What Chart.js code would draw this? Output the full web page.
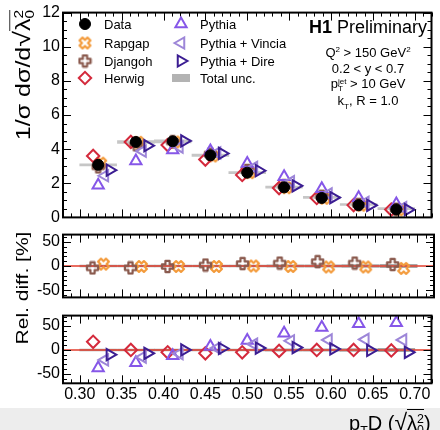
<!DOCTYPE html>
<html>
<head>
<meta charset="utf-8">
<script src="https://cdn.jsdelivr.net/npm/chart.js@4/dist/chart.umd.min.js"></script>
<style>
  html, body { margin: 0; padding: 0; background: #fff; width: 440px; height: 430px; overflow: hidden; position: relative;
    font-family: 'Liberation Sans Narrow', 'Liberation Sans', Arial, sans-serif; }
  .pan { position: absolute; left: 0; width: 440px; }
  .txt { position: absolute; white-space: nowrap; color: #000; line-height: 1; }
  #strip { position: absolute; left: 0; top: 408px; width: 440px; height: 22px; background: #ededed; }
  .rot { transform: rotate(-90deg) scaleY(0.8); transform-origin: center; text-align: center; }
  .ov { border-top: 1.5px solid #000; padding-top: 2px; }
  .ss { display: inline-block; font-size: 0.62em; line-height: 0.95em; vertical-align: -0.35em; text-align: left; }
  sub, sup { font-size: 0.62em; }
</style>
</head>
<body>
<div id="strip"></div>
<div class="pan" style="top:0;height:230px"><canvas id="cTop"></canvas></div>
<div class="pan" style="top:222px;height:88px"><canvas id="cMid"></canvas></div>
<div class="pan" style="top:303px;height:127px"><canvas id="cBot"></canvas></div>

<div class="txt rot" style="font-size:25px;width:200px;height:30px;left:-77px;top:60px">1/σ dσ/d<span style="font-size:1.15em">√</span><span class="ov">λ<span class="ss">2<br>0</span></span></div>
<div class="txt rot" style="font-size:21px;width:150px;height:24px;left:-52px;top:276px">Rel. diff. [%]</div>
<div class="txt" style="font-size:20px;left:349px;top:411px">p<sub>T</sub>D (<span style="font-size:1.15em">√</span><span class="ov">λ<span class="ss">2<br>0</span></span>)</div>

<div class="txt" style="font-size:18px;right:13px;top:18px"><b>H1</b> Preliminary</div>
<div class="txt" style="font-size:13px;left:300px;width:136px;text-align:center;top:46px">Q<sup>2</sup> &gt; 150 GeV<sup>2</sup></div>
<div class="txt" style="font-size:13px;left:300px;width:136px;text-align:center;top:62px">0.2 &lt; y &lt; 0.7</div>
<div class="txt" style="font-size:13px;left:300px;width:136px;text-align:center;top:77px">p<span class="ss" style="vertical-align:-0.4em">jet<br>T</span> &gt; 10 GeV</div>
<div class="txt" style="font-size:13px;left:300px;width:136px;text-align:center;top:94px">k<sub>T</sub>, R = 1.0</div>

<script>
  // bins of pT D (sqrt(lambda_0^2)), 9 bins between 0.30 and 0.70
  const binCentres = [0.322, 0.367, 0.411, 0.456, 0.500, 0.544, 0.589, 0.633, 0.678];
  const xTicks = [0.30, 0.35, 0.40, 0.45, 0.50, 0.55, 0.60, 0.65, 0.70];
  const yTopTicks = [0, 2, 4, 6, 8, 10, 12];
  const yRelTicks = [-50, 0, 50];

  // normalised cross section
  const dataVals = [3.08, 4.42, 4.46, 3.64, 2.62, 1.76, 1.14, 0.72, 0.47];
  const rapgapVals = [3.18, 4.40, 4.42, 3.60, 2.62, 1.74, 1.12, 0.71, 0.44];
  const djangohVals = [2.96, 4.25, 4.42, 3.71, 2.75, 1.85, 1.24, 0.76, 0.48];
  const herwigVals = [3.60, 4.42, 4.24, 3.39, 2.49, 1.72, 1.14, 0.72, 0.46];
  const pythiaVals = [1.88, 3.30, 3.95, 3.89, 3.16, 2.38, 1.68, 1.15, 0.78];
  const vinciaVals = [2.44, 3.88, 4.12, 3.78, 2.93, 2.09, 1.38, 0.88, 0.57];
  const direVals = [2.77, 4.20, 4.48, 3.75, 2.74, 1.85, 1.16, 0.71, 0.45];
  // total uncertainty [%]
  const totUnc = [2, 2, 2, 2, 2, 2.5, 2.5, 3, 3.5];

  // relative difference to data [%]
  const relRapgap = [4, -1, -1, -1, 0, -1, -2, -2, -5];
  const relDjangoh = [-4, -4, -1, 2, 5, 6, 9, 6, 3];
  const relHerwig = [17, 0, -5, -7, -5, -2, 0, 0, -1];
  const relPythia = [-38, -27, -12, 7, 20, 35, 47, 55, 57];
  const relVincia = [-21, -15, -8, 4, 12, 19, 21, 22, 21];
  const relDire = [-10, -7, 0, 3, 4, 5, 2, -1, -5];

  const X_MIN = 0.28, X_MAX = 0.72;
  const FONT = "'Liberation Sans Narrow', 'Liberation Sans', Arial, sans-serif";
  Chart.defaults.font.family = FONT;
  Chart.defaults.color = '#000';

  // open cross markers (ROOT style) as small canvases
  function crossImg(color, rot) {
    const s = 15, c = document.createElement('canvas');
    c.width = s; c.height = s;
    const g = c.getContext('2d');
    g.translate(s / 2, s / 2); g.rotate(rot);
    const a = 5.6, b = 2.1;
    g.beginPath();
    g.moveTo(-b, -a); g.lineTo(b, -a); g.lineTo(b, -b); g.lineTo(a, -b); g.lineTo(a, b); g.lineTo(b, b);
    g.lineTo(b, a); g.lineTo(-b, a); g.lineTo(-b, b); g.lineTo(-a, b); g.lineTo(-a, -b); g.lineTo(-b, -b);
    g.closePath();
    g.lineWidth = 2.2; g.strokeStyle = color; g.lineJoin = 'round'; g.stroke();
    return c;
  }

  const st = {
    data:    { pointStyle: 'circle', radius: 5.5, rotation: 0, borderWidth: 1, color: '#000', fill: '#000' },
    rapgap:  { pointStyle: crossImg('#f39a3a', Math.PI / 4), radius: 6, rotation: 0, borderWidth: 0, color: '#f39a3a', fill: '#f39a3a' },
    djangoh: { pointStyle: crossImg('#8a5a4e', 0), radius: 6, rotation: 0, borderWidth: 0, color: '#8a5a4e', fill: '#8a5a4e' },
    herwig:  { pointStyle: 'rectRot', radius: 6.2, rotation: 0, borderWidth: 2, color: '#d42a3c', fill: 'rgba(0,0,0,0)' },
    pythia:  { pointStyle: 'triangle', radius: 6.5, rotation: 0, borderWidth: 2, color: '#8657e8', fill: 'rgba(0,0,0,0)' },
    vincia:  { pointStyle: 'triangle', radius: 6.5, rotation: -90, borderWidth: 2, color: '#9d86d8', fill: 'rgba(0,0,0,0)' },
    dire:    { pointStyle: 'triangle', radius: 6.5, rotation: 90, borderWidth: 2, color: '#3b1d92', fill: 'rgba(0,0,0,0)' }
  };

  function pts(vals, dx) {
    return vals.map((v, i) => ({ x: binCentres[i] + dx, y: v }));
  }

  function markers(key, vals, dx) {
    const s = st[key];
    return {
      type: 'scatter', data: pts(vals, dx), showLine: false,
      pointStyle: s.pointStyle, pointRadius: s.radius, pointRotation: s.rotation,
      pointBorderWidth: s.borderWidth, pointBorderColor: s.color, pointBackgroundColor: s.fill
    };
  }

  function band(lo, hi, minLen, color) {
    return {
      type: 'bar', data: binCentres.map((c, i) => ({ x: c, y: [lo[i], hi[i]] })),
      backgroundColor: color, borderWidth: 0, barPercentage: 1, categoryPercentage: 1,
      minBarLength: minLen, grouped: false, order: 20
    };
  }

  function zeroLine() {
    return {
      type: 'line', data: [{ x: X_MIN, y: 0 }, { x: X_MAX, y: 0 }],
      borderColor: '#e23d2d', borderWidth: 1.5, pointRadius: 0, order: 10
    };
  }

  // frame with inward ticks on all sides
  const framePlugin = {
    id: 'frame',
    afterDatasetsDraw(chart, args, o) {
      const { ctx, chartArea: a, scales: { x, y } } = chart;
      ctx.save();
      ctx.strokeStyle = '#000';
      ctx.lineWidth = 1;
      ctx.beginPath();
      for (let k = 28; k <= 72; k++) {
        const px = Math.round(x.getPixelForValue(k / 100)) + 0.5;
        const len = k % 5 === 0 ? 8 : 4;
        ctx.moveTo(px, a.bottom); ctx.lineTo(px, a.bottom - len);
        ctx.moveTo(px, a.top); ctx.lineTo(px, a.top + len);
      }
      const start = Math.ceil(y.min / o.minor) * o.minor;
      for (let v = start; v <= y.max + 1e-9; v += o.minor) {
        const py = Math.round(y.getPixelForValue(v)) + 0.5;
        const r = v / o.major;
        const len = Math.abs(r - Math.round(r)) < 1e-6 ? 8 : 4;
        ctx.moveTo(a.left, py); ctx.lineTo(a.left + len, py);
        ctx.moveTo(a.right, py); ctx.lineTo(a.right - len, py);
      }
      ctx.stroke();
      ctx.lineWidth = 2;
      ctx.strokeRect(a.left, a.top, a.right - a.left, a.bottom - a.top);
      ctx.restore();
    }
  };

  // two column legend inside the top panel
  const legendPlugin = {
    id: 'legendBox',
    afterDraw(chart) {
      const ctx = chart.ctx;
      const rows = [
        ['data', 'Data', 85, 24], ['rapgap', 'Rapgap', 85, 43], ['djangoh', 'Djangoh', 85, 61], ['herwig', 'Herwig', 85, 78],
        ['pythia', 'Pythia', 181, 24], ['vincia', 'Pythia + Vincia', 181, 43], ['dire', 'Pythia + Dire', 181, 61], ['unc', 'Total unc.', 181, 78]
      ];
      ctx.save();
      ctx.font = '13px ' + FONT;
      ctx.textBaseline = 'middle';
      rows.forEach(([key, label, x, y]) => {
        if (key === 'unc') {
          ctx.fillStyle = '#b3b3b3';
          ctx.fillRect(x - 9, y - 4, 18, 8);
        } else {
          const s = st[key];
          ctx.fillStyle = s.fill; ctx.strokeStyle = s.color; ctx.lineWidth = s.borderWidth;
          Chart.helpers.drawPoint(ctx, { pointStyle: s.pointStyle, radius: s.radius, rotation: s.rotation, borderWidth: s.borderWidth }, x, y);
        }
        ctx.fillStyle = '#000';
        ctx.fillText(label, x + 19, y + 1);
      });
      ctx.restore();
    }
  };

  function yScale(min, max, ticks, fit) {
    return {
      type: 'linear', min: min, max: max,
      grid: { display: false, drawTicks: false }, border: { display: false },
      afterBuildTicks: s => { s.ticks = ticks.map(v => ({ value: v })); },
      afterFit: s => { s.width = fit; },
      ticks: { font: { size: 16 }, padding: 3, color: '#000' }
    };
  }

  function xScale(show) {
    const sc = {
      type: 'linear', min: X_MIN, max: X_MAX, display: show, offset: false,
      grid: { display: false, drawTicks: false, offset: false }, border: { display: false },
      afterBuildTicks: s => { s.ticks = xTicks.map(v => ({ value: v })); },
      ticks: { font: { size: 16 }, padding: 2, autoSkip: false, maxRotation: 0, color: '#000',
               callback: v => Number(v).toFixed(2) }
    };
    if (show) sc.afterFit = s => { s.height = 46.7; };
    return sc;
  }

  const baseOpts = (pad, ys, xs, frame) => ({
    responsive: true, maintainAspectRatio: false, animation: false,
    layout: { padding: pad },
    plugins: { legend: { display: false }, tooltip: { enabled: false }, frame: frame },
    scales: { x: xs, y: ys }
  });

  // top panel
  const topLo = dataVals.map((v, i) => v * (1 - totUnc[i] / 100));
  const topHi = dataVals.map((v, i) => v * (1 + totUnc[i] / 100));
  new Chart(document.getElementById('cTop'), {
    type: 'scatter',
    data: { datasets: [
      markers('data', dataVals, 0),
      markers('dire', direVals, 0.014),
      markers('vincia', vinciaVals, 0.008),
      markers('pythia', pythiaVals, 0),
      markers('herwig', herwigVals, -0.006),
      markers('djangoh', djangohVals, 0),
      markers('rapgap', rapgapVals, 0.003),
      band(topLo, topHi, 2, '#c6c6c6')
    ] },
    options: baseOpts({ top: 8.3, bottom: 11.7, left: 0, right: 0 }, yScale(0, 12, yTopTicks, 63), xScale(false),
      { minor: 0.5, major: 2 }),
    plugins: [framePlugin, legendPlugin]
  });

  // middle panel: Rapgap, Djangoh
  const relLo = totUnc.map(u => -u);
  new Chart(document.getElementById('cMid'), {
    type: 'scatter',
    data: { datasets: [
      markers('djangoh', relDjangoh, -0.007),
      markers('rapgap', relRapgap, 0.006),
      zeroLine(),
      band(relLo, totUnc, 0, '#a8a8a8')
    ] },
    options: baseOpts({ top: 9.7, bottom: 9, left: 0, right: 0 }, yScale(-65, 65, yRelTicks, 63), xScale(false),
      { minor: 10, major: 50 }),
    plugins: [framePlugin]
  });

  // bottom panel: Herwig, Pythia variants
  new Chart(document.getElementById('cBot'), {
    type: 'scatter',
    data: { datasets: [
      markers('dire', relDire, 0.014),
      markers('vincia', relVincia, 0.008),
      markers('pythia', relPythia, 0),
      markers('herwig', relHerwig, -0.006),
      zeroLine(),
      band(relLo, totUnc, 0, '#a8a8a8')
    ] },
    options: baseOpts({ top: 9.3, bottom: 0, left: 0, right: 0 }, yScale(-70, 72, yRelTicks, 63), xScale(true),
      { minor: 10, major: 50 }),
    plugins: [framePlugin]
  });
</script>
</body>
</html>
